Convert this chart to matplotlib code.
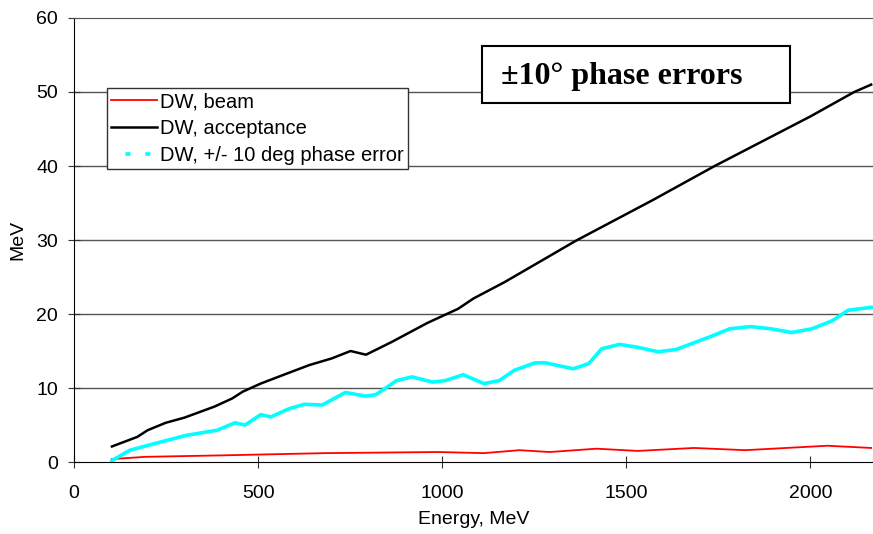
import matplotlib
matplotlib.use('Agg')
import matplotlib.pyplot as plt
from matplotlib.lines import Line2D
from matplotlib.patches import Rectangle

plt.rcParams['font.family'] = ['Liberation Sans', 'DejaVu Sans']

# black: DW, acceptance
e_acc = [103, 172, 200, 249, 300, 382, 430, 458, 507, 570, 639, 700, 751, 793, 862, 960,
         1008, 1043, 1085, 1169, 1280, 1363, 1572, 1740, 2000, 2119, 2165]
dw_acc = [2.1, 3.4, 4.3, 5.3, 6.0, 7.5, 8.6, 9.5, 10.6, 11.8, 13.1, 14.0, 15.0, 14.5, 16.2, 18.8,
          19.9, 20.7, 22.1, 24.3, 27.5, 29.9, 35.4, 40.0, 46.7, 50.0, 51.0]

# cyan: DW, +/- 10 deg phase error
e_err = [103, 152, 235, 305, 389, 437, 465, 507, 535, 584, 625, 674, 737, 792, 820, 876, 918,
         974, 1008, 1057, 1113, 1155, 1196, 1252, 1280, 1356, 1398, 1433, 1482, 1531, 1586,
         1635, 1726, 1781, 1837, 1893, 1949, 2004, 2060, 2102, 2165]
dw_err = [0.2, 1.6, 2.7, 3.6, 4.3, 5.3, 5.0, 6.4, 6.1, 7.2, 7.8, 7.7, 9.4, 8.9, 9.1, 11.0, 11.5,
          10.8, 11.0, 11.8, 10.6, 11.0, 12.4, 13.4, 13.4, 12.6, 13.3, 15.3, 15.9, 15.5, 14.9,
          15.2, 16.9, 18.0, 18.3, 18.0, 17.5, 18.0, 19.1, 20.5, 20.9]

# red: DW, beam
e_beam = [103, 194, 403, 681, 988, 1113, 1210, 1292, 1419, 1531, 1684, 1823, 2046, 2165]
dw_beam = [0.4, 0.7, 0.9, 1.2, 1.35, 1.2, 1.6, 1.35, 1.8, 1.5, 1.9, 1.6, 2.2, 1.9]

fig = plt.figure(figsize=(8.73, 5.34), dpi=100)
ax = fig.add_axes([0.0848, 0.1348, 0.9152, 0.8315])

for y in range(10, 60, 10):
    ax.axhline(y, color='#555555', lw=1.0, zorder=0)

ax.plot(e_beam, dw_beam, color='red', lw=1.3)
ax.plot(e_acc, dw_acc, color='black', lw=1.8)
ax.plot(e_err, dw_err, color='cyan', lw=2.6)

ax.set_xlim(0, 2170)
ax.set_ylim(0, 60)
ax.set_xticks([0, 500, 1000, 1500, 2000])
ax.set_yticks(range(0, 70, 10))
ax.tick_params(labelsize=14, direction='inout', length=8, color='#333333')
ax.tick_params(axis='x', pad=12.5)
ax.tick_params(axis='y', pad=7.5)
ax.spines['right'].set_visible(False)
ax.spines['top'].set_color('#555555')
ax.set_xlabel('Energy, MeV', fontsize=14)
ax.set_ylabel('MeV', fontsize=14)
ax.xaxis.set_label_coords(0.5, -0.11)
ax.yaxis.set_label_coords(-0.06, 0.5)

handles = [Line2D([], [], color='red', lw=1.3),
           Line2D([], [], color='black', lw=1.8),
           Line2D([], [], color='cyan', lw=2.6, linestyle=(1.5, (1.4, 4.1)))]
labels = ['DW, beam', 'DW, acceptance', 'DW, +/- 10 deg phase error']
leg = ax.legend(handles, labels, loc='upper left', bbox_to_anchor=(0.041, 0.842),
                borderaxespad=0, fontsize=14.5, fancybox=False, framealpha=1,
                edgecolor='#333333', handlelength=2.3, handletextpad=0.15,
                labelspacing=0.4, borderpad=0.2)
leg.get_frame().set_linewidth(1.0)

ax.add_patch(Rectangle((0.51, 0.809), 0.386, 0.128, transform=ax.transAxes,
                       facecolor='white', edgecolor='black', lw=1.5, zorder=5))
ax.text(0.535, 0.868, '±10° phase errors', transform=ax.transAxes, ha='left', va='center',
        fontsize=23, fontweight='bold', family='Liberation Serif', zorder=6)

fig.savefig('out.png', dpi=100)
